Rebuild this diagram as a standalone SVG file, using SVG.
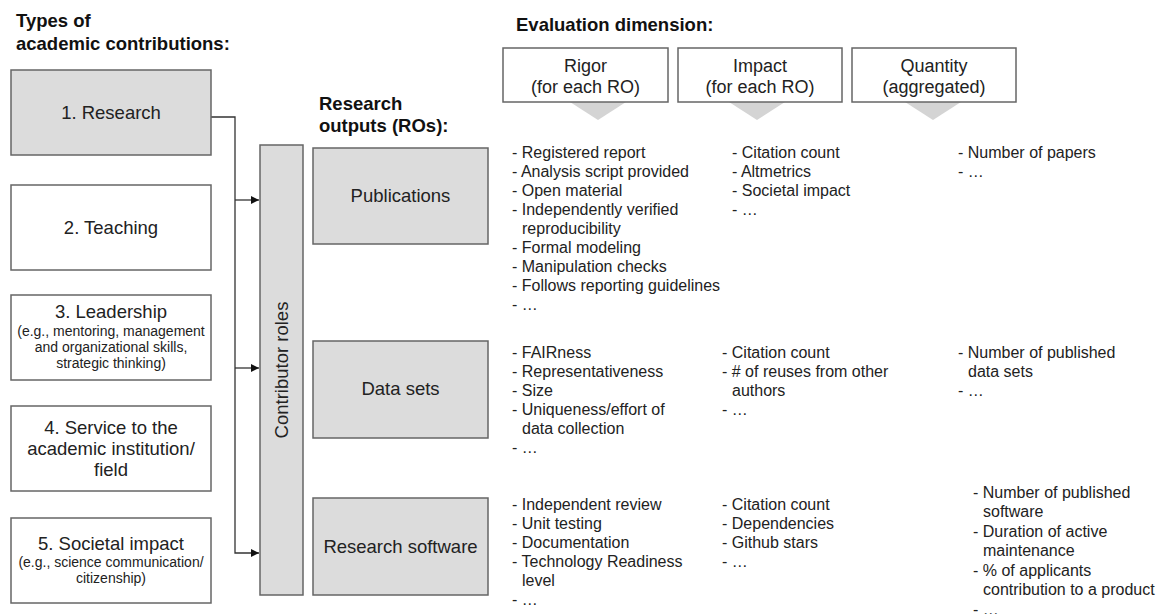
<svg xmlns="http://www.w3.org/2000/svg" width="1162" height="614" viewBox="0 0 1162 614">
<defs>
<style>
text{font-family:"Liberation Sans",Arial,Helvetica,sans-serif;fill:#222}
.hd{font-weight:bold;font-size:18.5px;fill:#111}
.lbl{font-size:18.5px;text-anchor:middle}
.sub{font-size:14px;text-anchor:middle}
.ev{font-size:18px;text-anchor:middle}
.li{font-size:16px}
.box{fill:#dcdcdc;stroke:#666;stroke-width:1.5}
.wbox{fill:#fff;stroke:#666;stroke-width:1.5}
.chev{fill:#d4d4d4}
.conn{fill:none;stroke:#333;stroke-width:1.3}
</style>
<marker id="arr" viewBox="0 0 10 10" refX="10" refY="5" markerWidth="8" markerHeight="8" markerUnits="userSpaceOnUse" orient="auto">
<path d="M0,0 L10,5 L0,10 z" fill="#111"/>
</marker>
</defs>
<rect width="1162" height="614" fill="#fff"/>

<g id="headers">
<text class="hd" x="16" y="27">Types of</text>
<text class="hd" x="16" y="50">academic contributions:</text>
<text class="hd" x="319" y="110">Research</text>
<text class="hd" x="319" y="132">outputs (ROs):</text>
<text class="hd" x="516" y="31">Evaluation dimension:</text>
</g>

<g id="connectors">
<path class="conn" d="M211,117 H235 V553 H259" marker-end="url(#arr)"/>
<path class="conn" d="M235,200 H259" marker-end="url(#arr)"/>
<path class="conn" d="M235,368 H259" marker-end="url(#arr)"/>
</g>

<g id="research">
<rect class="box" x="11" y="70" width="200" height="85"/>
<text class="lbl" x="111" y="119">1. Research</text>
</g>
<g id="teaching">
<rect class="wbox" x="11" y="185" width="200" height="85"/>
<text class="lbl" x="111" y="234">2. Teaching</text>
</g>
<g id="leadership">
<rect class="wbox" x="11" y="295" width="200" height="85"/>
<text class="lbl" x="111" y="318">3. Leadership</text>
<text class="sub" x="111" y="336">(e.g., mentoring, management</text>
<text class="sub" x="111" y="352">and organizational skills,</text>
<text class="sub" x="111" y="368">strategic thinking)</text>
</g>
<g id="service">
<rect class="wbox" x="11" y="406" width="200" height="85"/>
<text class="lbl" x="111" y="434">4. Service to the</text>
<text class="lbl" x="111" y="455">academic institution/</text>
<text class="lbl" x="111" y="476">field</text>
</g>
<g id="societal">
<rect class="wbox" x="11" y="518" width="200" height="85"/>
<text class="lbl" x="111" y="550">5. Societal impact</text>
<text class="sub" x="111" y="567">(e.g., science communication/</text>
<text class="sub" x="111" y="583">citizenship)</text>
</g>

<g id="contributor-roles">
<rect class="box" x="260" y="145" width="43" height="450"/>
<text class="lbl" transform="translate(288,370) rotate(-90)" x="0" y="0">Contributor roles</text>
</g>

<g id="publications">
<rect class="box" x="313" y="148" width="175" height="96"/>
<text class="lbl" x="400.5" y="202">Publications</text>
</g>
<g id="datasets">
<rect class="box" x="313" y="341" width="175" height="97"/>
<text class="lbl" x="400.5" y="395">Data sets</text>
</g>
<g id="software">
<rect class="box" x="313" y="498" width="175" height="97"/>
<text class="lbl" x="400.5" y="553">Research software</text>
</g>

<g id="rigor">
<polygon class="chev" points="570,102 626,102 598,120"/>
<rect class="wbox" x="503" y="48" width="165" height="54"/>
<text class="ev" x="585.5" y="72">Rigor</text>
<text class="ev" x="585.5" y="93">(for each RO)</text>
</g>
<g id="impact">
<polygon class="chev" points="729,102 785,102 757,120"/>
<rect class="wbox" x="678" y="48" width="164" height="54"/>
<text class="ev" x="760" y="72">Impact</text>
<text class="ev" x="760" y="93">(for each RO)</text>
</g>
<g id="quantity">
<polygon class="chev" points="905,102 961,102 933,120"/>
<rect class="wbox" x="852" y="48" width="164" height="54"/>
<text class="ev" x="934" y="72">Quantity</text>
<text class="ev" x="934" y="93">(aggregated)</text>
</g>

<g id="rigor-items" class="li">
<text class="li" x="512" y="158">- Registered report</text>
<text class="li" x="512" y="177">- Analysis script provided</text>
<text class="li" x="512" y="196">- Open material</text>
<text class="li" x="512" y="215">- Independently verified</text>
<text class="li" x="522" y="234">reproducibility</text>
<text class="li" x="512" y="253">- Formal modeling</text>
<text class="li" x="512" y="272">- Manipulation checks</text>
<text class="li" x="512" y="291">- Follows reporting guidelines</text>
<text class="li" x="512" y="310">- …</text>

<text class="li" x="512" y="358">- FAIRness</text>
<text class="li" x="512" y="377">- Representativeness</text>
<text class="li" x="512" y="396">- Size</text>
<text class="li" x="512" y="415">- Uniqueness/effort of</text>
<text class="li" x="522" y="434">data collection</text>
<text class="li" x="512" y="453">- …</text>

<text class="li" x="512" y="510">- Independent review</text>
<text class="li" x="512" y="529">- Unit testing</text>
<text class="li" x="512" y="548">- Documentation</text>
<text class="li" x="512" y="567">- Technology Readiness</text>
<text class="li" x="522" y="586">level</text>
<text class="li" x="512" y="605">- …</text>
</g>

<g id="impact-items">
<text class="li" x="732" y="158">- Citation count</text>
<text class="li" x="732" y="177">- Altmetrics</text>
<text class="li" x="732" y="196">- Societal impact</text>
<text class="li" x="732" y="215">- …</text>

<text class="li" x="722" y="358">- Citation count</text>
<text class="li" x="722" y="377">- # of reuses from other</text>
<text class="li" x="732" y="396">authors</text>
<text class="li" x="722" y="415">- …</text>

<text class="li" x="722" y="510">- Citation count</text>
<text class="li" x="722" y="529">- Dependencies</text>
<text class="li" x="722" y="548">- Github stars</text>
<text class="li" x="722" y="567">- …</text>
</g>

<g id="quantity-items">
<text class="li" x="958" y="158">- Number of papers</text>
<text class="li" x="958" y="177">- …</text>

<text class="li" x="958" y="358">- Number of published</text>
<text class="li" x="968" y="377">data sets</text>
<text class="li" x="958" y="396">- …</text>

<text class="li" x="973" y="498">- Number of published</text>
<text class="li" x="983" y="517">software</text>
<text class="li" x="973" y="537">- Duration of active</text>
<text class="li" x="983" y="556">maintenance</text>
<text class="li" x="973" y="576">- % of applicants</text>
<text class="li" x="983" y="595">contribution to a product</text>
<text class="li" x="973" y="615">- …</text>
</g>
</svg>
